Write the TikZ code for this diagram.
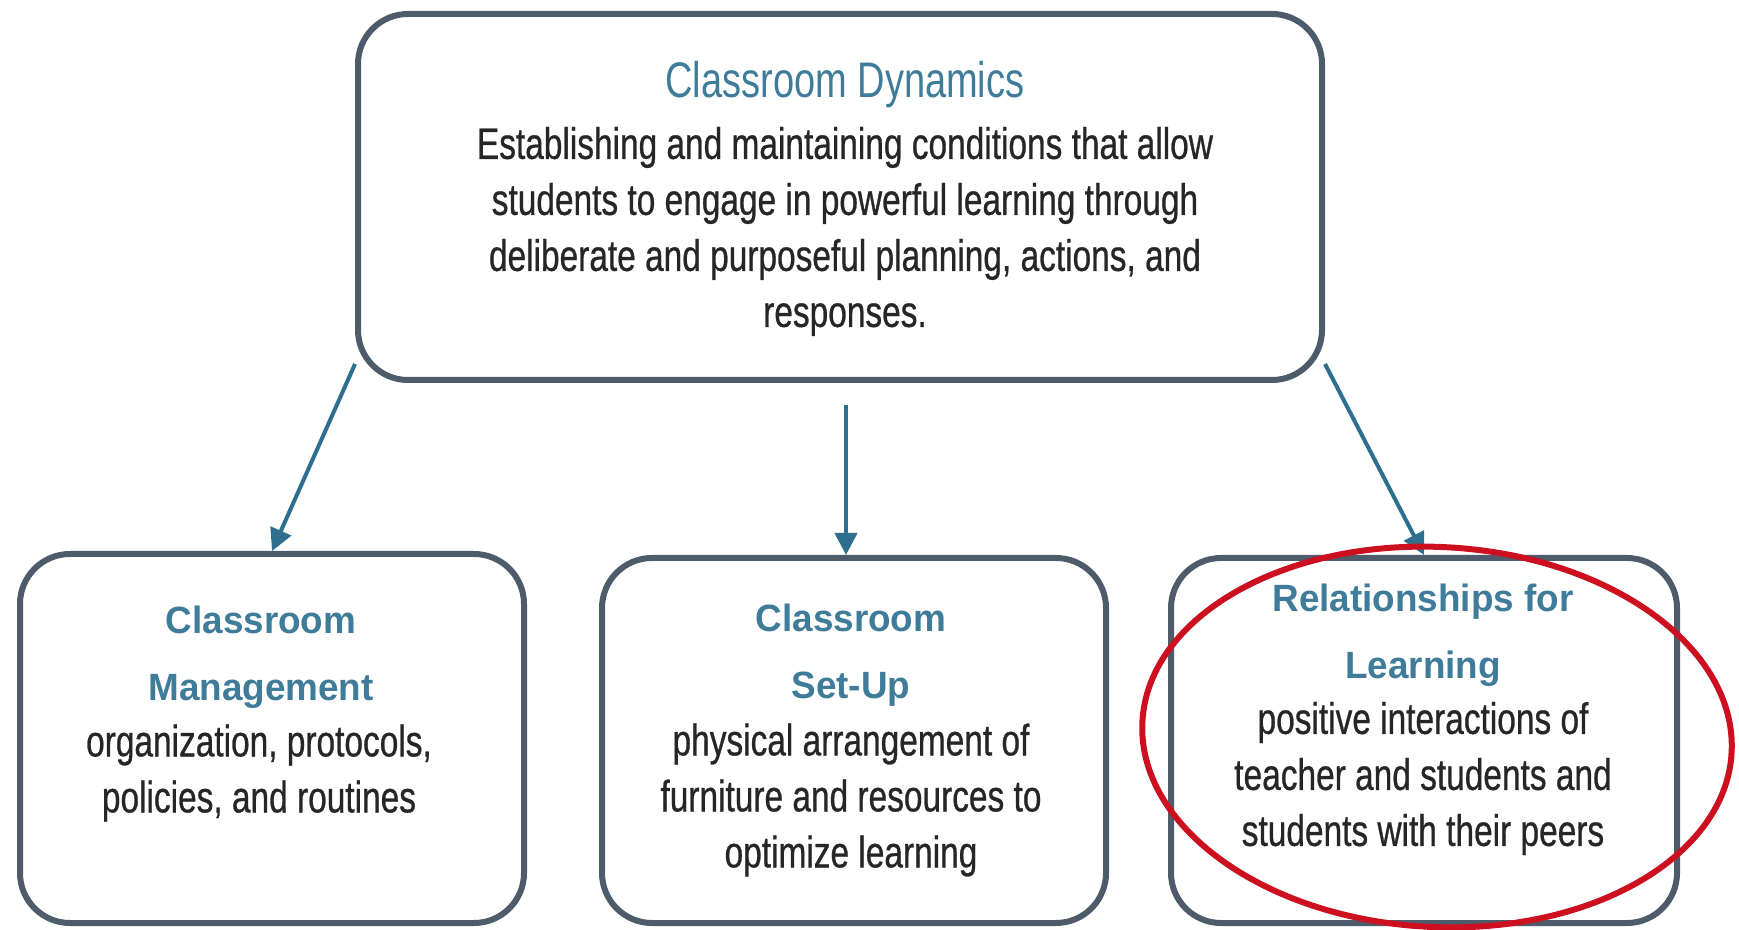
\documentclass[tikz,border=0pt]{standalone}
\usepackage{fontspec}
\setmainfont{Liberation Sans}[FakeStretch=0.76,FakeBold=0.6]
\newfontfamily\titlefont{Liberation Sans}[FakeStretch=0.76]
\newfontfamily\headfont{Liberation Sans}[FakeStretch=0.97]
\usetikzlibrary{arrows.meta,calc}
\definecolor{boxc}{HTML}{4E5B6B}
\definecolor{arrc}{HTML}{2E6E8E}
\definecolor{headc}{HTML}{3F7C9A}
\definecolor{bodyc}{HTML}{262626}
\definecolor{redc}{HTML}{CC1020}
\begin{document}
\begin{tikzpicture}[x=1pt,y=1pt,
  box/.style={draw=boxc, line width=6pt, rounded corners=50pt, fill=white, inner sep=0pt},
  arr/.style={draw=arrc, line width=4pt, -{Triangle[length=22pt,width=22pt]}},
  body/.style={text=bodyc, align=center, inner sep=0pt, font=\fontsize{44}{56}\selectfont},
  title/.style={text=headc, align=center, inner sep=0pt, font=\titlefont\fontsize{50}{60}\selectfont},
  head/.style={text=headc, align=center, inner sep=0pt, font=\headfont\bfseries\fontsize{38}{67}\selectfont},
]
\useasboundingbox (0,0) rectangle (1739,929);
\fill[white] (0,0) rectangle (1739,929);
% boxes
\node[box, minimum width=964pt, minimum height=366pt] (top) at (840,732) {};
\node[box, minimum width=504pt, minimum height=369pt] (lb) at (272,190.5) {};
\node[box, minimum width=504pt, minimum height=365pt] (mb) at (854,188.5) {};
\node[box, minimum width=506pt, minimum height=365pt] (rb) at (1424,188.5) {};
% texts
\node[title] (toptitle) at (845,844) {Classroom Dynamics};
\node[body] (topbody) at (845,697.5) {Establishing and maintaining conditions that allow\\students to engage in powerful learning through\\deliberate and purposeful planning, actions, and\\responses.};
\node[head] (lhead) at (261,271.5) {Classroom\\Management};
\node[body] (lbody) at (259,156) {organization, protocols,\\policies, and routines};
\node[head] (mhead) at (851,273.5) {Classroom\\Set-Up};
\node[body] (mbody) at (851,129) {physical arrangement of\\furniture and resources to\\optimize learning};
\node[head] (rhead) at (1423,294) {Relationships for\\Learning};
\node[body] (rbody) at (1423,150.5) {positive interactions of\\teacher and students and\\students with their peers};
% connectors
\draw[arr] (top.199) -- (lb.north);
\draw[arr] ($(top.south -| mb.north)+(-8,-22)$) -- ($(mb.north)+(-8,0)$);
\draw[arr] (top.-19.5) -- (rb.north);
% red highlight
\draw[redc, line width=6pt, rotate around={-3:(1437,192)}] (1437,192) ellipse [x radius=295, y radius=190];
\end{tikzpicture}
\end{document}
